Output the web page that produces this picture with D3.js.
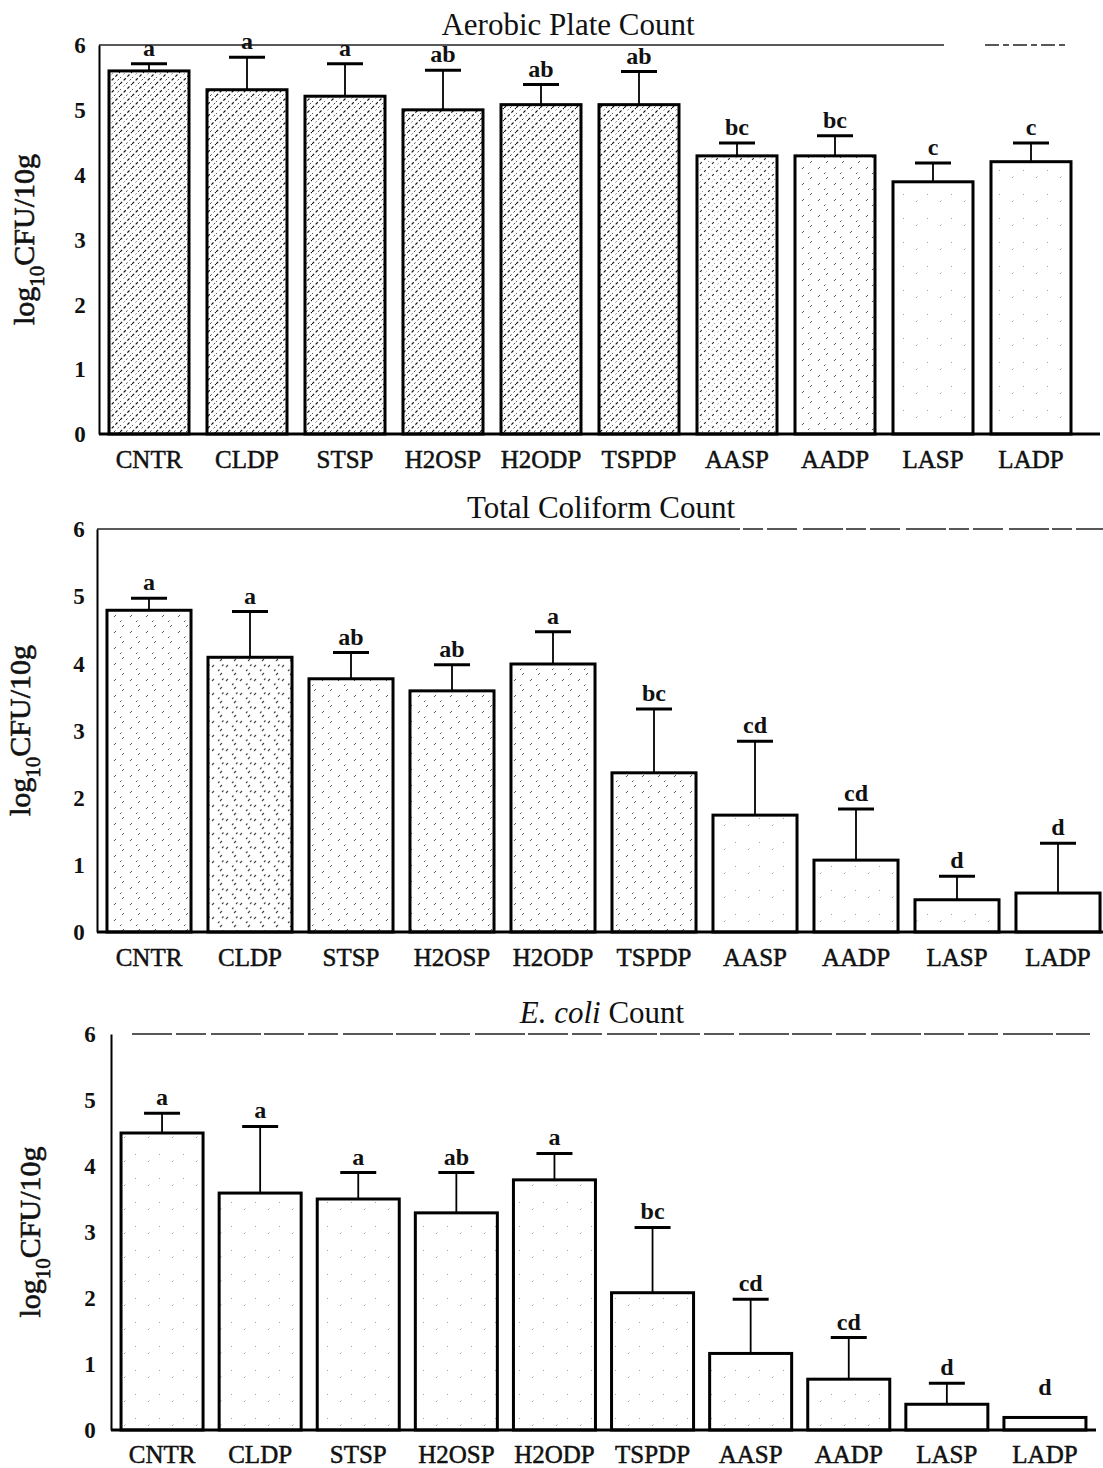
<!DOCTYPE html>
<html><head><meta charset="utf-8">
<script src="https://cdn.jsdelivr.net/npm/d3@7"></script>
<style>body{margin:0;background:#fff} svg{display:block}</style>
</head><body><svg id="c" width="1103" height="1468"></svg>
<script>
// ---------- data ----------
const categories = ["CNTR","CLDP","STSP","H2OSP","H2ODP","TSPDP","AASP","AADP","LASP","LADP"];
const yTicks = [0,1,2,3,4,5,6];
const aerobicMean    = [5.60,5.31,5.21,5.00,5.08,5.08,4.29,4.29,3.89,4.20];
const aerobicErr     = [0.11,0.50,0.50,0.61,0.31,0.51,0.20,0.31,0.29,0.29];
const aerobicLetters = ["a","a","a","ab","ab","ab","bc","bc","c","c"];
const coliformMean    = [4.79,4.09,3.77,3.59,3.99,2.37,1.74,1.07,0.48,0.58];
const coliformErr     = [0.18,0.68,0.39,0.39,0.48,0.95,1.10,0.76,0.35,0.74];
const coliformLetters = ["a","a","ab","ab","a","bc","cd","cd","d","d"];
const ecoliMean    = [4.50,3.59,3.50,3.29,3.79,2.08,1.16,0.77,0.39,0.19];
const ecoliErr     = [0.30,1.01,0.40,0.61,0.40,0.99,0.82,0.63,0.32,0.00];
const ecoliLetters = ["a","a","a","ab","a","bc","cd","cd","d","d"];

// ---------- layout / style ----------
const panels = [
  {title:[["Aerobic Plate Count",false]], mean:aerobicMean, err:aerobicErr, letters:aerobicLetters,
   titleX:568, titleY:35, yTop:45, yBot:434, axisX:99, r0:100, r1:1080, pad:0.1837, axisEnd:1100,
   tickX:80, ylabX:34, xlabY:468, topLine:[[99,944,"none"],[985,1068,"14 4 6 4"]],
   shade:["dark","dark","dark","dark","dark","dark","med","stip","faint","faint"]},
  {title:[["Total Coliform Count",false]], mean:coliformMean, err:coliformErr, letters:coliformLetters,
   titleX:601, titleY:518, yTop:529, yBot:932, axisX:97, r0:98.5, r1:1108.5, pad:0.168, axisEnd:1103,
   tickX:79, ylabX:30, xlabY:966, topLine:[[97,700,"none"],[700,1103,"40 3 20 4 30 6"]],
   shade:["stip","stip2","stip","stip","stip","stip","faint","faint","faint","white"]},
  {title:[["E. coli",true],[" Count",false]], mean:ecoliMean, err:ecoliErr, letters:ecoliLetters,
   titleX:602, titleY:1023, yTop:1034, yBot:1430, axisX:111, r0:113, r1:1094, pad:0.164, axisEnd:1096,
   tickX:90, ylabX:40, xlabY:1463, topLine:[[132,1090,"40 4 30 5 50 3"]],
   shade:["faint","faint","faint","faint","faint","faint","faint","faint","white","white"]}
];

const svg = d3.select("#c");
const serif = "'Liberation Serif','Times New Roman',serif";

// texture patterns (pencil-like diagonal dashes on white)
const defs = svg.append("defs");
function pat(id, marks, size) {
  const p = defs.append("pattern").attr("id", id).attr("patternUnits","userSpaceOnUse")
    .attr("width", size).attr("height", size);
  p.append("rect").attr("width", size).attr("height", size).attr("fill", "#fff");
  marks(p);
}
pat("dark", p => {
  p.append("path").attr("d","M0,12 L12,0 M-6,6 L6,-6 M6,18 L18,6")
    .attr("stroke","#111").attr("stroke-width",1.2).attr("stroke-dasharray","3 2.2");
  p.append("path").attr("d","M-3,3 L3,-3 M3,15 L15,3 M0,6 L6,0 M6,12 L12,6")
    .attr("stroke","#444").attr("stroke-width",0.9).attr("stroke-dasharray","1.5 3.5");
}, 12);
pat("med", p => {
  p.append("path").attr("d","M0,12 L12,0 M-6,6 L6,-6 M6,18 L18,6")
    .attr("stroke","#222").attr("stroke-width",1.1).attr("stroke-dasharray","2.5 3.2");
  p.append("path").attr("d","M0,6 L6,0 M6,12 L12,6")
    .attr("stroke","#666").attr("stroke-width",0.8).attr("stroke-dasharray","1.2 4");
}, 12);
pat("stip", p => {
  p.append("path").attr("d","M2,9 L4,7 M10,3 L12,1 M8,14 L9.5,12.5")
    .attr("stroke","#555").attr("stroke-width",1);
}, 16);
pat("stip2", p => {
  p.append("path").attr("d","M2,9 L4,7 M10,3 L12,1 M8,13 L9.5,11.5 M12,8 L13.5,6.5")
    .attr("stroke","#444").attr("stroke-width",1.1);
}, 14);
pat("faint", p => {
  p.append("path").attr("d","M4,10 L5.5,8.5 M15,3 L16,2")
    .attr("stroke","#999").attr("stroke-width",0.9);
}, 24);
const fillOf = s => s === "white" ? "#fff" : `url(#${s})`;

panels.forEach(P => {
  const g = svg.append("g");
  const x = d3.scaleBand().domain(categories).range([P.r0, P.r1])
    .paddingInner(P.pad).paddingOuter(P.pad / 2);
  const y = d3.scaleLinear().domain([0, 6]).range([P.yBot, P.yTop]);

  // title
  const t = g.append("text").attr("x", P.titleX).attr("y", P.titleY).attr("text-anchor","middle")
    .attr("font-family", serif).attr("font-size", 31).attr("fill","#111");
  P.title.forEach(([s, it]) => t.append("tspan").attr("font-style", it ? "italic" : "normal").text(s));

  // top reference line at y = 6
  P.topLine.forEach(([a, b, dash]) => g.append("line")
    .attr("x1", a).attr("x2", b).attr("y1", y(6)).attr("y2", y(6))
    .attr("stroke","#222").attr("stroke-width",1.6).attr("stroke-dasharray", dash));

  // bars
  const idx = d3.range(categories.length);
  g.selectAll("rect.bar").data(idx).join("rect").attr("class","bar")
    .attr("x", i => x(categories[i])).attr("width", x.bandwidth())
    .attr("y", i => y(P.mean[i])).attr("height", i => y(0) - y(P.mean[i]))
    .attr("fill", i => fillOf(P.shade[i])).attr("stroke","#000").attr("stroke-width",3);

  // error bars
  const cx = i => x(categories[i]) + x.bandwidth() / 2;
  idx.filter(i => P.err[i] > 0).forEach(i => {
    g.append("line").attr("x1", cx(i)).attr("x2", cx(i))
      .attr("y1", y(P.mean[i])).attr("y2", y(P.mean[i] + P.err[i]))
      .attr("stroke","#000").attr("stroke-width",1.8);
    g.append("line").attr("x1", cx(i) - 18).attr("x2", cx(i) + 18)
      .attr("y1", y(P.mean[i] + P.err[i])).attr("y2", y(P.mean[i] + P.err[i]))
      .attr("stroke","#000").attr("stroke-width",3);
  });

  // significance letters
  g.selectAll("text.let").data(idx).join("text").attr("class","let")
    .attr("x", cx).attr("y", i => y(P.mean[i] + P.err[i]) - (P.err[i] > 0 ? 8 : 22))
    .attr("text-anchor","middle").attr("font-family", serif).attr("font-weight","bold")
    .attr("font-size", 24).attr("fill","#111").text(i => P.letters[i]);

  // y axis
  const ya = g.append("g").attr("transform", `translate(${P.axisX},0)`)
    .call(d3.axisLeft(y).tickValues(yTicks).tickFormat(d3.format("d")).tickSize(0).tickPadding(P.axisX - P.tickX - 6));
  ya.select(".domain").attr("stroke","#000").attr("stroke-width",2);
  ya.selectAll("text").attr("font-family", serif).attr("font-weight","bold").attr("font-size",23)
    .attr("fill","#111").attr("text-anchor","middle").attr("x", P.tickX - P.axisX).attr("dy","0.34em");

  // x axis
  const xa = g.append("g").attr("transform", `translate(0,${P.yBot})`)
    .call(d3.axisBottom(x).tickSize(0).tickPadding(0));
  xa.select(".domain").remove();
  g.append("line").attr("x1", P.axisX).attr("x2", P.axisEnd).attr("y1", P.yBot).attr("y2", P.yBot)
    .attr("stroke","#000").attr("stroke-width",3);
  xa.selectAll("text").attr("font-family", serif).attr("font-size",25).attr("fill","#111")
    .attr("stroke","#111").attr("stroke-width",0.5)
    .attr("dy", null).attr("y", P.xlabY - P.yBot);

  // y axis title
  const yl = g.append("text").attr("transform", `translate(${P.ylabX},${(P.yTop + P.yBot) / 2}) rotate(-90)`)
    .attr("text-anchor","middle").attr("font-family", serif).attr("font-size",30).attr("fill","#111")
    .attr("stroke","#111").attr("stroke-width",0.6);
  yl.append("tspan").text("log");
  yl.append("tspan").attr("font-size",21).attr("dy",10).text("10");
  yl.append("tspan").attr("dy",-10).text("CFU/10g");
});
</script></body></html>
